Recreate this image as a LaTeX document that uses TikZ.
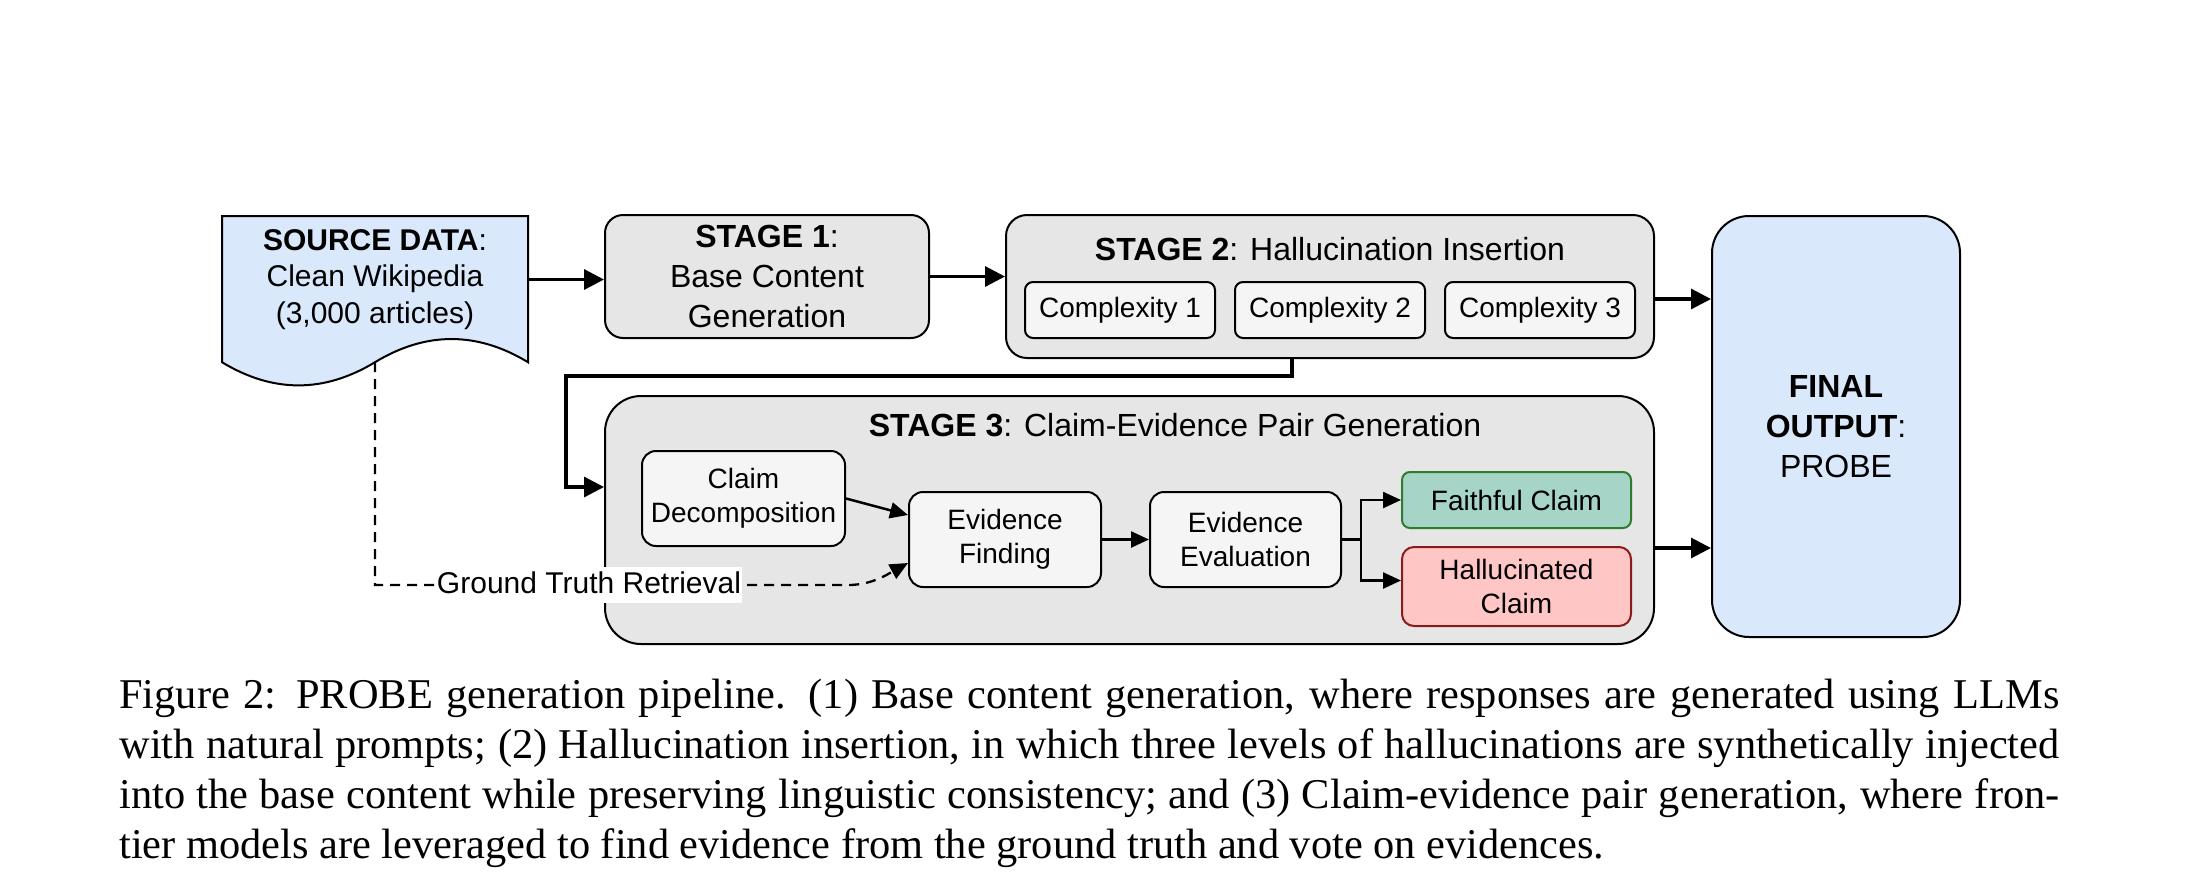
\documentclass[tikz,border=0pt]{standalone}
\usepackage{fontspec}
\setmainfont{Liberation Sans}
\newfontfamily\capfont{Liberation Serif}
\usetikzlibrary{arrows.meta}
\definecolor{blueF}{HTML}{DAE8FC}
\definecolor{grayF}{HTML}{E6E6E6}
\definecolor{innerF}{HTML}{F5F5F5}
\definecolor{greenF}{HTML}{A6D5C8}
\definecolor{greenD}{HTML}{2D7D2D}
\definecolor{redF}{HTML}{FFC6C6}
\definecolor{redD}{HTML}{8B1A1A}
\begin{document}
\begin{tikzpicture}[x=0.5pt,y=-0.5pt,
  box/.style={draw=black, line width=1pt, inner sep=0pt, align=center},
  stagebox/.style={box, fill=grayF},
  innerbox/.style={box, fill=innerF, font=\fontsize{14}{16.8}\selectfont, rounded corners=7pt},
  ttl/.style={font=\fontsize{16}{19.2}\selectfont, inner sep=0pt},
  arr/.style={line width=1.6pt, -{Triangle[length=10pt,width=10pt]}},
  arrs/.style={line width=1.25pt, -{Triangle[length=9pt,width=8pt]}},
  gtline/.style={line width=1.15pt, dash pattern=on 5pt off 3.5pt, -{Triangle[length=9pt,width=8pt]}},
  gtlab/.style={fill=white, inner xsep=0.5pt, inner ysep=0pt, text height=13pt, text depth=5pt, font=\fontsize{15}{18}\selectfont},
  capline/.style={anchor=base west, inner sep=0pt, font=\capfont\fontsize{21.2}{25}\selectfont}
]
\useasboundingbox (0,0) rectangle (2190,885);

% source document shape
\path[draw=black, fill=blueF, line width=1pt] (222,216) -- (528,216) -- (528,362.2)
  .. controls (477,331.3) and (426,331.3) .. (375,362.2)
  .. controls (324,393.1) and (273,393.1) .. (222,362.2) -- cycle;
\node[font=\fontsize{15}{18.2}\selectfont, align=center, minimum width=153pt, inner sep=0pt] (src) at (375,279.5)
  {\textbf{SOURCE DATA}:\\Clean Wikipedia\\(3,000 articles)};

% stage 1
\node[stagebox, minimum width=162pt, minimum height=61.5pt, rounded corners=9pt, font=\fontsize{16}{19.8}\selectfont] (stage1) at (767,276.5)
  {\textbf{STAGE 1}:\\Base Content\\Generation};

% stage 2
\node[stagebox, minimum width=324pt, minimum height=71.5pt, rounded corners=10.5pt] (stage2) at (1330,286.5) {};
\node[ttl] (t2) at (1330,249) {\textbf{STAGE 2}: Hallucination Insertion};
\node[innerbox, minimum width=95pt, minimum height=28pt, rounded corners=4pt] (c1) at (1120,310) {\raisebox{-1pt}{Complexity 1}};
\node[innerbox, minimum width=95pt, minimum height=28pt, rounded corners=4pt] (c2) at (1330,310) {\raisebox{-1pt}{Complexity 2}};
\node[innerbox, minimum width=95pt, minimum height=28pt, rounded corners=4pt] (c3) at (1540,310) {\raisebox{-1pt}{Complexity 3}};

% final output
\node[box, fill=blueF, minimum width=124pt, minimum height=210.5pt, rounded corners=18.5pt, font=\fontsize{16}{20}\selectfont] (final) at (1836,426.5)
  {\textbf{FINAL}\\\textbf{OUTPUT}:\\PROBE};

% stage 3
\node[stagebox, minimum width=524.5pt, minimum height=124pt, rounded corners=18pt] (stage3) at (1129.5,520) {};
\node[ttl] (t3) at (1175,425) {\textbf{STAGE 3}: Claim-Evidence Pair Generation};
\node[innerbox, minimum width=101.5pt, minimum height=47.5pt] (claimdec) at (743.5,498.5) {Claim\\Decomposition};
\node[innerbox, minimum width=96pt, minimum height=47.5pt] (evfind) at (1005,539.5) {Evidence\\Finding};
\node[innerbox, minimum width=95.5pt, minimum height=47.5pt] (eveval) at (1245.5,539.5) {Evidence\\Evaluation};
\node[innerbox, fill=greenF, draw=greenD, minimum width=114.5pt, minimum height=28pt, rounded corners=4pt] (faithful) at (1516.5,500) {\raisebox{-1pt}{Faithful Claim}};
\node[innerbox, fill=redF, draw=redD, minimum width=114.5pt, minimum height=39.5pt, rounded corners=6pt] (halluc) at (1516.5,586.5) {Hallucinated\\Claim};

% main connectors
\draw[arr] (src.east) -- (src.east -| stage1.west);
\draw[arr] (stage1.east) -- (stage1.east -| stage2.west);
\coordinate (s2o) at ([yshift=-6.25pt]stage2.east);
\draw[arr] (s2o) -- (s2o -| final.west);
\coordinate (s3o) at ([yshift=-14pt]stage3.east);
\draw[arr] (s3o) -- (s3o -| final.west);
\coordinate (s2b) at ([xshift=-19pt]stage2.south);
\coordinate (k1) at (566,376);
\coordinate (s3i) at ([yshift=16.5pt]stage3.west);
\draw[arr] (s2b) |- (k1) |- (s3i);

% inner connectors
\draw[arrs] (claimdec.east) -- ([yshift=12.25pt]evfind.west);
\draw[arrs] (evfind.east) -- (eveval.west);
\coordinate (br) at ([xshift=9.5pt]eveval.east);
\draw[arrs] (eveval.east) -- (br) |- (faithful.west);
\draw[arrs] (br) |- ([yshift=3pt]halluc.west);

% ground truth retrieval
\coordinate (srcb) at (375,362.2);
\coordinate (gt1) at (375,585);
\coordinate (gt2) at (848,585);
\coordinate (gtend) at ([yshift=-11.75pt]evfind.west);
\draw[gtline] (srcb) -- (gt1) -- (gt2) .. controls (872,585) and (888,574) .. (gtend);
\node[gtlab] (gtl) at (589,585) {Ground Truth Retrieval};

% caption
\node[capline] (cap1) at (119,708) {\makebox[970pt][s]{Figure 2: PROBE generation pipeline. (1) Base content generation, where responses are generated using LLMs}};
\node[capline] (cap2) at (119,758) {\makebox[970pt][s]{with natural prompts; (2) Hallucination insertion, in which three levels of hallucinations are synthetically injected}};
\node[capline] (cap3) at (119,808) {\makebox[970pt][s]{into the base content while preserving linguistic consistency; and (3) Claim-evidence pair generation, where fron-}};
\node[capline] (cap4) at (119,858) {tier models are leveraged to find evidence from the ground truth and vote on evidences.};
\end{tikzpicture}
\end{document}
